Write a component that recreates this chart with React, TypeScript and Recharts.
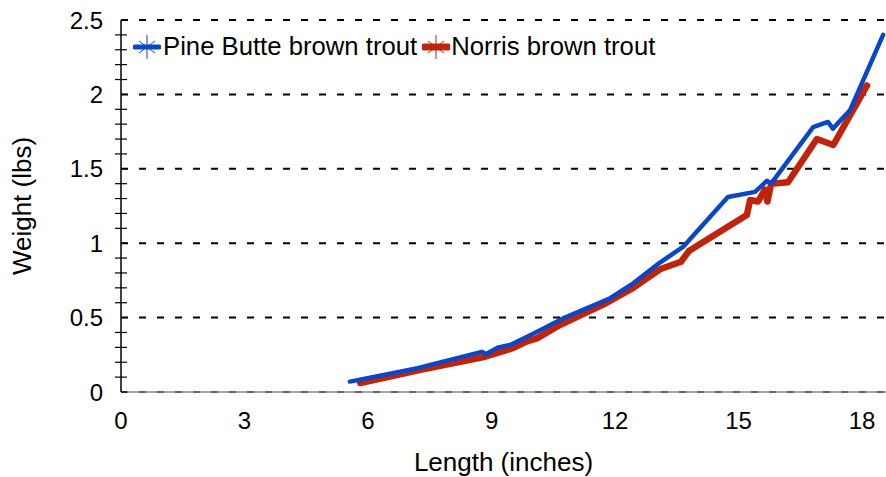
import React from 'react';
import { LineChart, Line, XAxis, YAxis, ReferenceLine, Legend, Label } from 'recharts';

const pineButteLength = [5.56, 7.2, 8.76, 8.87, 9.16, 9.45, 10.0, 10.78, 11.88, 12.44, 13.09, 13.65, 14.74, 15.4, 15.69, 15.79, 16.81, 17.17, 17.29, 17.71, 18.51];
const pineButteWeight = [0.07, 0.16, 0.27, 0.255, 0.3, 0.316, 0.39, 0.5, 0.63, 0.73, 0.87, 0.975, 1.31, 1.345, 1.42, 1.4, 1.78, 1.815, 1.77, 1.895, 2.4];

const norrisLength = [5.81, 7.3, 8.84, 9.52, 9.86, 10.1, 10.66, 11.8, 12.44, 13.09, 13.6, 13.8, 15.2, 15.28, 15.47, 15.64, 15.7, 15.79, 16.2, 16.9, 17.3, 18.12];
const norrisWeight = [0.06, 0.15, 0.237, 0.295, 0.34, 0.36, 0.45, 0.6, 0.7, 0.825, 0.875, 0.95, 1.19, 1.29, 1.28, 1.36, 1.28, 1.4, 1.41, 1.7, 1.66, 2.06];

const xTicks = [0, 3, 6, 9, 12, 15, 18];
const yTicks = [0, 0.1, 0.2, 0.3, 0.4, 0.5, 0.6, 0.7, 0.8, 0.9, 1, 1.1, 1.2, 1.3, 1.4, 1.5, 1.6, 1.7, 1.8, 1.9, 2, 2.1, 2.2, 2.3, 2.4, 2.5];
const gridValues = [0, 0.5, 1, 1.5, 2, 2.5];

const seriesNames = ['Pine Butte brown trout', 'Norris brown trout'];
const BLUE = '#0a47c6';
const RED = '#c0220a';
const FONT = '"Liberation Sans", Arial, Helvetica, sans-serif';

const pineButte = pineButteLength.map((l, i) => ({ length: l, weight: pineButteWeight[i] }));
const norris = norrisLength.map((l, i) => ({ length: l, weight: norrisWeight[i] }));

const Y_TICK_MARGIN = 18;

const YTick = (props: any) => {
  const { x, y, payload } = props;
  const v = payload.value;
  const major = Math.abs(v * 2 - Math.round(v * 2)) < 1e-6;
  const ax = x + Y_TICK_MARGIN;
  const label = String(Number(v.toFixed(1)));
  return (
    <g>
      <line x1={major ? ax : ax - 6} x2={ax + 6} y1={y} y2={y} stroke="#000" strokeWidth={1.2} />
      {major && (
        <text x={x} y={y} dy="0.36em" textAnchor="end" fontSize={24} fontFamily={FONT} fill="#000">
          {label}
        </text>
      )}
    </g>
  );
};

const XTick = (props: any) => {
  const { x, y, payload } = props;
  return (
    <text x={x} y={y + 36.6} textAnchor="middle" fontSize={24} fontFamily={FONT} fill="#000">
      {String(payload.value)}
    </text>
  );
};

const LegendIcon = ({ color, width }: { color: string; width: number }) => (
  <svg width={28} height={26} style={{ display: 'block' }}>
    <line x1={2} y1={13} x2={26} y2={13} stroke={color} strokeWidth={width} strokeLinecap="round" />
    <line x1={14} y1={1} x2={14} y2={25} stroke={color} strokeWidth={1} />
    <line x1={6} y1={7} x2={22} y2={19} stroke={color} strokeWidth={1} />
    <line x1={6} y1={19} x2={22} y2={7} stroke={color} strokeWidth={1} />
  </svg>
);

const renderLegend = () => (
  <div style={{ display: 'flex', alignItems: 'center', fontFamily: FONT, fontSize: 25.7, color: '#000', whiteSpace: 'nowrap' }}>
    <div style={{ display: 'flex', alignItems: 'center', marginRight: 5 }}>
      <LegendIcon color={BLUE} width={5} />
      <span style={{ marginLeft: 2 }}>{seriesNames[0]}</span>
    </div>
    <div style={{ display: 'flex', alignItems: 'center' }}>
      <LegendIcon color={RED} width={7} />
      <span style={{ marginLeft: 1 }}>{seriesNames[1]}</span>
    </div>
  </div>
);

export default function App() {
  return (
    <div style={{ position: 'absolute', left: 8, top: 8, width: 878, height: 469, fontFamily: FONT }}>
      <LineChart width={878} height={469} margin={{ top: 12, right: 0, bottom: 5, left: 0 }}>
        {gridValues.map((v) => (
          <ReferenceLine key={v} y={v} stroke="#000" strokeWidth={2} strokeDasharray="7 11" />
        ))}
        <XAxis
          type="number"
          dataKey="length"
          domain={[0, 18.58]}
          allowDataOverflow
          ticks={xTicks}
          interval={0}
          tickLine={false}
          tickSize={0}
          tickMargin={0}
          height={80}
          axisLine={{ stroke: '#888', strokeWidth: 1.5 }}
          tick={<XTick />}
        >
          <Label
            content={(p: any) => {
              const vb = p.viewBox;
              return (
                <text x={vb.x + vb.width / 2} y={vb.y + 79} textAnchor="middle" fontSize={26} fontFamily={FONT} fill="#000">
                  Length (inches)
                </text>
              );
            }}
          />
        </XAxis>
        <YAxis
          type="number"
          domain={[0, 2.5]}
          ticks={yTicks}
          interval={0}
          width={113}
          tickLine={false}
          tickSize={0}
          tickMargin={Y_TICK_MARGIN}
          axisLine={{ stroke: '#000', strokeWidth: 1.5 }}
          tick={<YTick />}
        >
          <Label
            content={(p: any) => {
              const vb = p.viewBox;
              const cx = vb.x + 14;
              const cy = vb.y + vb.height / 2;
              return (
                <text x={cx} y={cy} dy="0.36em" transform={`rotate(-90, ${cx}, ${cy})`} textAnchor="middle" fontSize={26} fontFamily={FONT} fill="#000">
                  Weight (lbs)
                </text>
              );
            }}
          />
        </YAxis>
        <Legend
          layout="vertical"
          align="center"
          verticalAlign="middle"
          content={renderLegend}
          wrapperStyle={{ top: 24, left: 125, width: 'auto' }}
        />
        <Line
          data={norris}
          dataKey="weight"
          type="linear"
          stroke={RED}
          strokeWidth={6.5}
          dot={false}
          strokeLinejoin="round"
          strokeLinecap="round"
          isAnimationActive={false}
          name={seriesNames[1]}
        />
        <Line
          data={pineButte}
          dataKey="weight"
          type="linear"
          stroke={BLUE}
          strokeWidth={4.5}
          dot={false}
          strokeLinejoin="round"
          strokeLinecap="round"
          isAnimationActive={false}
          name={seriesNames[0]}
        />
      </LineChart>
    </div>
  );
}
